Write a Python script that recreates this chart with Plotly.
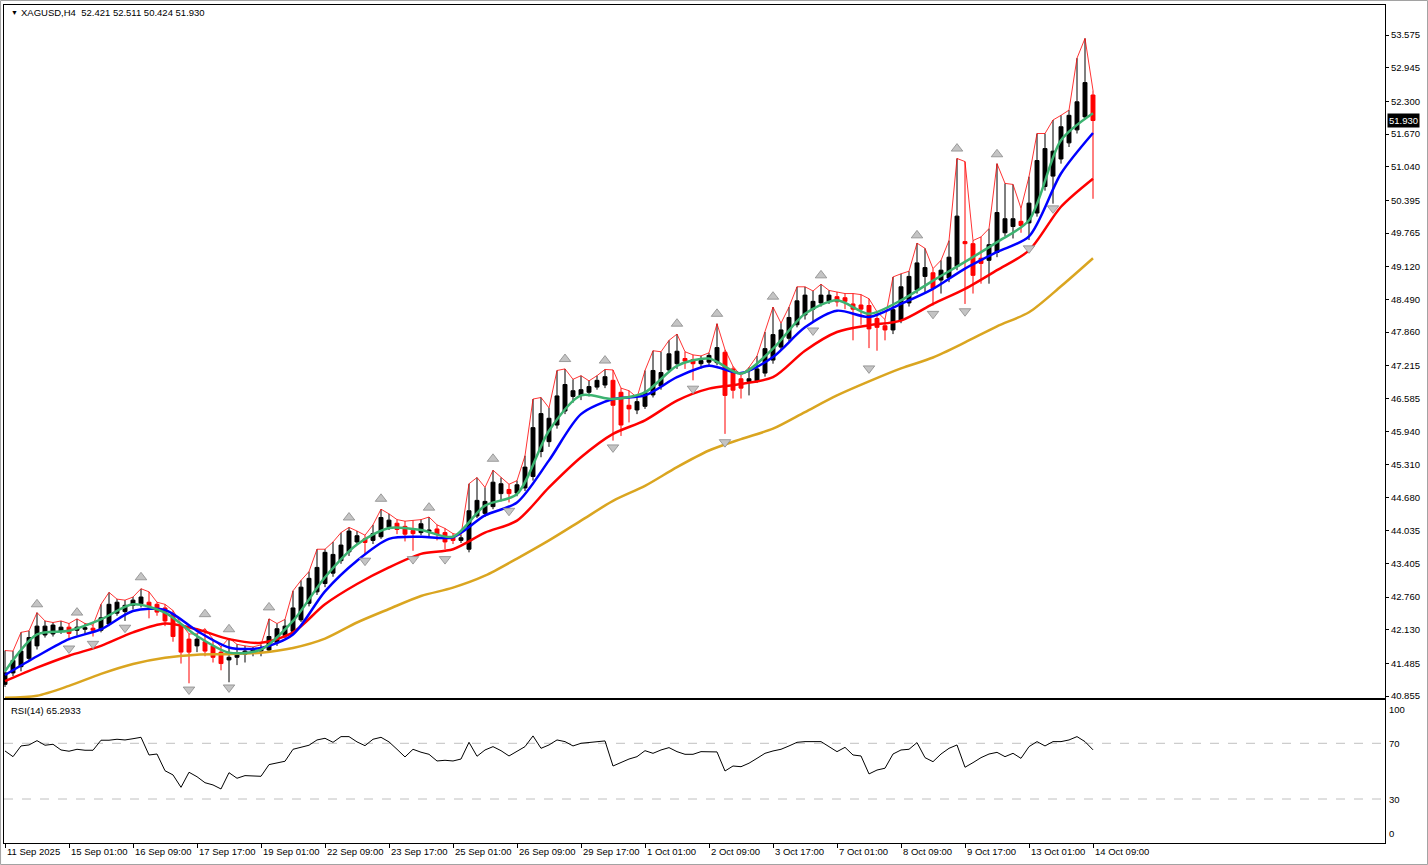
import plotly.graph_objects as go

# XAGUSD H4 candles, 11 Sep 2025 17:00 .. 14 Oct 2025 09:00 (137 bars)
opens = [41.08, 41.30, 41.42, 41.58, 41.82, 42.03, 42.05, 42.10, 42.18, 42.12,
         42.14, 42.16, 42.12, 42.24, 42.45, 42.48, 42.60, 42.63, 42.66, 42.62,
         42.55, 42.43, 42.20, 41.95, 41.82, 41.90, 41.82, 41.70, 41.55, 41.60,
         41.66, 41.70, 41.72, 41.74, 41.88, 42.02, 42.10, 42.32, 42.64, 42.86,
         43.02, 43.22, 43.46, 43.63, 43.82, 43.88, 43.85, 43.92, 44.10, 44.18,
         44.12, 44.04, 44.00, 44.02, 44.07, 44.00, 43.91, 43.85, 43.68, 44.32,
         44.37, 44.50, 44.75, 44.83, 44.76, 44.86, 45.08, 45.56, 45.75, 46.07,
         46.34, 46.62, 46.64, 46.70, 46.80, 46.84, 46.93, 46.70, 46.45, 46.36,
         46.43, 46.65, 46.82, 47.13, 47.25, 47.35, 47.33, 47.25, 47.28, 47.27,
         47.47, 47.15, 46.96, 46.91, 46.92, 47.07, 47.32, 47.57, 47.74, 48.00,
         48.19, 48.30, 48.42, 48.45, 48.54, 48.52, 48.40, 48.38, 48.37, 48.12,
         47.98, 47.90, 48.09, 48.42, 48.67, 48.93, 49.00, 48.86, 48.90, 49.12,
         49.60, 49.56, 49.28, 49.24, 49.39, 49.77, 49.89, 49.99, 49.96, 50.15,
         50.66, 50.86, 51.19, 51.50, 51.75, 52.00, 52.421]
highs = [41.73, 41.72, 42.08, 42.11, 42.46, 42.30, 42.27, 42.30, 42.25, 42.34,
         42.25, 42.22, 42.62, 42.85, 42.72, 42.70, 42.76, 42.92, 42.86, 42.66,
         42.62, 42.50, 42.25, 42.05, 42.05, 42.15, 41.95, 41.80, 41.97, 41.85,
         41.82, 41.80, 41.84, 42.34, 42.25, 42.33, 42.88, 43.08, 43.25, 43.68,
         43.68, 43.82, 44.00, 44.10, 44.03, 43.95, 44.15, 44.45, 44.36, 44.25,
         44.22, 44.23, 44.25, 44.30, 44.15, 44.08, 43.98, 43.95, 44.94, 45.06,
         44.87, 45.20, 45.06, 44.93, 45.00, 45.48, 46.57, 46.60, 46.40, 47.12,
         47.15, 46.95, 47.02, 46.92, 47.02, 47.14, 47.13, 46.78, 46.73, 46.60,
         47.12, 47.50, 47.48, 47.70, 47.82, 47.48, 47.42, 47.40, 47.46, 48.02,
         47.52, 47.20, 47.02, 47.18, 47.40, 47.86, 48.34, 48.03, 48.34, 48.73,
         48.73, 48.65, 48.78, 48.66, 48.63, 48.60, 48.60, 48.58, 48.50, 48.25,
         48.10, 48.92, 48.98, 49.03, 49.57, 49.47, 49.08, 49.24, 49.62, 51.20,
         51.14, 49.62, 49.69, 49.85, 51.10, 50.72, 50.70, 50.24, 50.85, 51.68,
         51.68, 51.94, 52.03, 52.13, 53.13, 53.51, 52.511]
lows = [41.03, 41.24, 41.33, 41.53, 41.75, 41.98, 42.00, 42.05, 41.95, 42.02,
        42.05, 42.00, 42.08, 42.20, 42.40, 42.30, 42.52, 42.56, 42.35, 42.40,
        42.20, 41.90, 41.48, 41.10, 41.70, 41.62, 41.50, 41.35, 41.12, 41.45,
        41.50, 41.62, 41.62, 41.70, 41.82, 41.97, 42.05, 42.28, 42.58, 42.80,
        42.95, 43.15, 43.40, 43.55, 43.78, 43.58, 43.78, 43.88, 44.05, 43.97,
        43.83, 43.65, 43.95, 43.90, 43.85, 43.68, 43.78, 43.80, 43.62, 44.28,
        44.30, 44.45, 44.60, 44.58, 44.70, 44.80, 45.00, 45.45, 45.65, 46.00,
        46.28, 46.50, 46.55, 46.62, 46.75, 46.78, 45.77, 45.86, 46.12, 46.28,
        46.38, 46.60, 46.75, 47.08, 47.15, 47.15, 46.93, 47.16, 47.22, 47.22,
        45.90, 46.58, 46.58, 46.64, 46.88, 47.00, 47.25, 47.50, 47.68, 47.95,
        48.10, 48.05, 48.35, 48.40, 48.35, 48.30, 47.70, 48.00, 47.55, 47.50,
        47.70, 47.82, 48.03, 48.35, 48.60, 48.62, 48.37, 48.60, 48.82, 49.05,
        48.40, 48.60, 48.79, 48.79, 49.30, 49.70, 49.66, 49.77, 49.63, 50.08,
        50.58, 50.33, 51.10, 51.42, 51.68, 51.95, 50.424]
closes = [41.30, 41.54, 41.72, 41.98, 42.20, 42.20, 42.22, 42.18, 42.06, 42.18,
          42.17, 42.12, 42.36, 42.62, 42.66, 42.60, 42.70, 42.76, 42.57, 42.47,
          42.30, 42.00, 41.70, 41.70, 41.95, 41.72, 41.60, 41.48, 41.60, 41.68,
          41.72, 41.74, 41.78, 42.00, 42.15, 42.20, 42.55, 42.95, 43.12, 43.33,
          43.62, 43.58, 43.76, 44.03, 43.94, 43.81, 43.98, 44.29, 44.24, 44.06,
          43.97, 43.98, 44.17, 44.05, 43.97, 43.82, 43.85, 43.90, 44.42, 44.62,
          44.60, 44.97, 44.94, 44.75, 44.92, 45.26, 46.02, 46.29, 46.20, 46.63,
          46.85, 46.73, 46.75, 46.81, 46.93, 47.00, 46.45, 46.07, 46.38, 46.52,
          46.70, 47.12, 47.08, 47.44, 47.49, 47.30, 47.25, 47.31, 47.41, 47.56,
          46.64, 46.74, 46.78, 46.96, 47.15, 47.54, 47.81, 47.90, 48.14, 48.46,
          48.57, 48.45, 48.57, 48.57, 48.44, 48.45, 48.30, 48.30, 47.92, 47.95,
          47.90, 48.29, 48.73, 48.93, 49.19, 49.10, 48.70, 49.05, 49.30, 50.09,
          49.56, 48.95, 49.18, 49.54, 50.16, 50.04, 50.04, 49.91, 50.34, 51.16,
          51.39, 51.34, 51.81, 52.03, 52.29, 52.66, 51.930]
bars = list(range(len(closes)))

# moving averages, read every 4th bar
ma_bars = list(range(0, 137, 4))
ma_gold = [40.82, 40.86, 41.05, 41.28, 41.47, 41.59, 41.65, 41.66, 41.69, 41.78,
           41.96, 42.27, 42.53, 42.78, 42.94, 43.17, 43.50, 43.85, 44.23, 44.61,
           44.90, 45.26, 45.58, 45.80, 46.00, 46.32, 46.64, 46.91, 47.16, 47.37,
           47.66, 47.97, 48.24, 48.74, 49.28]
ma_red = [41.14, 41.40, 41.63, 41.82, 42.08, 42.25, 42.14, 41.95, 41.88, 42.08,
          42.62, 43.01, 43.33, 43.59, 43.68, 44.00, 44.23, 44.87, 45.45, 45.90,
          46.16, 46.54, 46.77, 46.86, 46.99, 47.50, 47.86, 47.99, 48.08, 48.40,
          48.69, 49.05, 49.43, 50.27, 50.81]
ma_blue = [41.26, 41.62, 41.95, 42.14, 42.49, 42.51, 42.11, 41.79, 41.78, 42.04,
           42.87, 43.46, 43.88, 43.92, 43.91, 44.33, 44.58, 45.39, 46.28, 46.57,
           46.64, 46.99, 47.21, 47.07, 47.38, 47.95, 48.27, 48.15, 48.40, 48.69,
           49.08, 49.40, 49.70, 50.91, 51.69]
ma_green = [41.33, 42.04, 42.11, 42.33, 42.62, 42.46, 42.01, 41.69, 41.75, 42.30,
            43.14, 43.77, 44.09, 44.05, 43.92, 44.52, 44.74, 45.96, 46.64, 46.57,
            46.70, 47.21, 47.35, 47.06, 47.54, 48.21, 48.47, 48.21, 48.47, 48.85,
            49.21, 49.59, 50.01, 51.55, 52.07]

# fractal arrows
up_bars = [4, 9, 17, 25, 28, 33, 43, 47, 53, 61, 70, 75, 84, 89, 96, 102, 114, 119, 124]
up_price = [42.62, 42.46, 43.14, 42.43, 42.14, 42.56, 44.29, 44.65, 44.48, 45.42,
            47.34, 47.31, 48.02, 48.21, 48.54, 48.95, 49.72, 51.39, 51.28]
down_bars = [8, 11, 15, 23, 28, 45, 51, 55, 63, 76, 86, 90, 101, 108, 116, 120, 128, 131]
down_price = [41.77, 41.86, 42.17, 40.98, 41.02, 43.46, 43.49, 43.49, 44.42, 45.64,
              46.77, 45.74, 47.89, 47.16, 48.21, 48.26, 49.47, 50.24]

rsi = [64.5, 60.4, 68.1, 68.8, 71.9, 68.6, 69.3, 65.2, 64.3, 65.7,
       65.0, 65.0, 72.2, 72.2, 72.9, 72.4, 73.3, 74.3, 61.6, 62.3,
       50.3, 47.3, 38.4, 49.2, 46.0, 41.7, 40.1, 37.2, 48.9, 44.9,
       46.8, 46.8, 46.3, 54.7, 55.7, 57.1, 65.7, 66.9, 68.6, 72.4,
       73.6, 70.7, 74.8, 74.8, 71.0, 68.3, 72.9, 74.3, 71.0, 65.7,
       60.2, 65.7, 63.6, 62.1, 57.3, 57.8, 57.3, 58.7, 70.7, 60.7,
       65.2, 67.6, 64.7, 60.9, 64.0, 67.6, 75.3, 66.4, 68.8, 72.4,
       71.2, 68.1, 70.0, 70.5, 70.7, 71.7, 53.7, 56.1, 58.7, 60.4,
       64.7, 62.8, 65.2, 66.9, 64.0, 62.1, 62.1, 64.0, 64.0, 63.8,
       50.1, 53.7, 53.2, 55.7, 59.2, 62.8, 64.5, 65.7, 68.1, 70.7,
       71.2, 71.2, 71.2, 67.6, 64.0, 67.1, 61.6, 60.9, 48.0, 50.8,
       52.1, 62.3, 65.2, 65.7, 70.5, 59.7, 56.8, 62.3, 66.4, 68.8,
       52.8, 56.1, 59.7, 62.3, 63.5, 60.4, 62.8, 59.2, 67.6, 71.2,
       68.1, 71.2, 71.2, 72.4, 74.8, 71.2, 65.29]

price_ticks = ["53.575", "52.945", "52.300", "51.670", "51.040", "50.395", "49.765",
               "49.120", "48.490", "47.860", "47.215", "46.585", "45.940", "45.310",
               "44.680", "44.035", "43.405", "42.760", "42.130", "41.485", "40.855"]
time_labels = ["11 Sep 2025", "15 Sep 01:00", "16 Sep 09:00", "17 Sep 17:00", "19 Sep 01:00",
               "22 Sep 09:00", "23 Sep 17:00", "25 Sep 01:00", "26 Sep 09:00", "29 Sep 17:00",
               "1 Oct 01:00", "2 Oct 09:00", "3 Oct 17:00", "7 Oct 01:00", "8 Oct 09:00",
               "9 Oct 17:00", "13 Oct 01:00", "14 Oct 09:00"]
time_bars = list(range(0, 137, 8))
rsi_levels = [70, 30]

FONT = "Liberation Sans"
FS = 9.5
xr = [-0.125, 172.5]

fig = go.Figure()

fig.add_trace(go.Candlestick(
    x=bars, open=opens, high=highs, low=lows, close=closes,
    increasing=dict(line=dict(color="black", width=1), fillcolor="black"),
    decreasing=dict(line=dict(color="red", width=1), fillcolor="red"),
    whiskerwidth=0, hoverinfo="skip", showlegend=False))

# thin red line through the highs
fig.add_trace(go.Scatter(x=bars, y=highs, mode="lines",
                         line=dict(color="red", width=0.8), hoverinfo="skip"))

for vals, col, w in [(ma_gold, "#daa520", 2.5), (ma_red, "#ff0000", 2.5),
                     (ma_blue, "#0000ff", 2.5), (ma_green, "#3cb371", 2.5)]:
    fig.add_trace(go.Scatter(x=ma_bars, y=vals, mode="lines",
                             line=dict(color=col, width=w, shape="spline", smoothing=0.8),
                             hoverinfo="skip"))

fig.add_trace(go.Scatter(x=up_bars, y=up_price, mode="markers", hoverinfo="skip",
                         marker=dict(symbol="triangle-up", size=10, color="#c4c4c4",
                                     line=dict(color="#8a8a8a", width=0.8))))
fig.add_trace(go.Scatter(x=down_bars, y=down_price, mode="markers", hoverinfo="skip",
                         marker=dict(symbol="triangle-down", size=10, color="#c4c4c4",
                                     line=dict(color="#8a8a8a", width=0.8))))

# RSI panel
fig.add_trace(go.Scatter(x=bars, y=rsi, mode="lines", xaxis="x2", yaxis="y2",
                         line=dict(color="black", width=1), hoverinfo="skip"))

shapes = []
for lv in rsi_levels:
    shapes.append(dict(type="line", xref="x2", yref="y2", x0=xr[0], x1=xr[1], y0=lv, y1=lv,
                       line=dict(color="#c0c0c0", width=1, dash="dash"), layer="below"))
# window frame
shapes.append(dict(type="rect", xref="paper", yref="paper", x0=-0.0025, x1=1.0308,
                   y0=-0.0257, y1=1.0054, line=dict(color="#a0a0a0", width=1)))

ann = []
ann.append(dict(text="▼", xref="paper", yref="paper", x=0.0035, y=0.9915, xanchor="left",
                yanchor="middle", showarrow=False, font=dict(family=FONT, size=7, color="black")))
ann.append(dict(text=f"XAGUSD,H4  {opens[-1]:.3f} {highs[-1]:.3f} {lows[-1]:.3f} {closes[-1]:.3f}",
                xref="paper", yref="paper", x=0.0112, y=0.9915, xanchor="left", yanchor="middle",
                showarrow=False, font=dict(family=FONT, size=FS, color="black")))
ann.append(dict(text=f"RSI(14) {65.2933:.4f}", xref="paper", yref="paper", x=0.0035, y=0.1587,
                xanchor="left", yanchor="middle", showarrow=False,
                font=dict(family=FONT, size=FS, color="black")))
for b, t in zip(time_bars, time_labels):
    ann.append(dict(text=t, xref="x2", yref="paper", x=b, y=0, xanchor="left", yanchor="top",
                    xshift=0, yshift=-1, showarrow=False,
                    font=dict(family=FONT, size=FS, color="black")))
for lv, t, ya in [(100, "100", "top"), (70, "70", "middle"), (30, "30", "middle"), (0, "0", "bottom")]:
    ann.append(dict(text=t, xref="paper", yref="y2", x=1, y=lv, xanchor="left", yanchor=ya,
                    xshift=2, showarrow=False, font=dict(family=FONT, size=FS, color="black")))
ann.append(dict(text=f"{closes[-1]:.3f}", xref="paper", yref="y", x=1, y=closes[-1],
                xanchor="left", yanchor="middle", xshift=2, showarrow=False, bgcolor="black",
                borderpad=1, font=dict(family=FONT, size=FS, color="white")))

axis_line = dict(showline=True, mirror=True, linecolor="black", linewidth=1,
                 showgrid=False, zeroline=False)

fig.update_layout(
    width=1428, height=865,
    margin=dict(l=4, r=43, t=5, b=22),
    paper_bgcolor="white", plot_bgcolor="white",
    showlegend=False,
    xaxis=dict(domain=[0, 1], anchor="y", range=xr, showticklabels=False, ticks="",
               rangeslider=dict(visible=False), **axis_line),
    yaxis=dict(domain=[0.17303, 1], anchor="x", side="right", range=[40.817, 54.153],
               tickvals=[float(v) for v in price_ticks], ticktext=price_ticks,
               ticks="outside", ticklen=3, tickcolor="black",
               tickfont=dict(family=FONT, size=FS, color="black"), **axis_line),
    xaxis2=dict(domain=[0, 1], anchor="y2", range=xr, tickvals=time_bars,
                showticklabels=False, ticks="outside", ticklen=4, tickcolor="black", **axis_line),
    yaxis2=dict(domain=[0, 0.17064], anchor="x2", side="right", range=[-1.58, 101.08],
                showticklabels=False, ticks="", **axis_line),
    shapes=shapes,
    annotations=ann,
)

fig.write_html("out.html", config={"displayModeBar": False},
               post_script="document.body.style.margin='0';document.body.style.overflow='hidden';")
